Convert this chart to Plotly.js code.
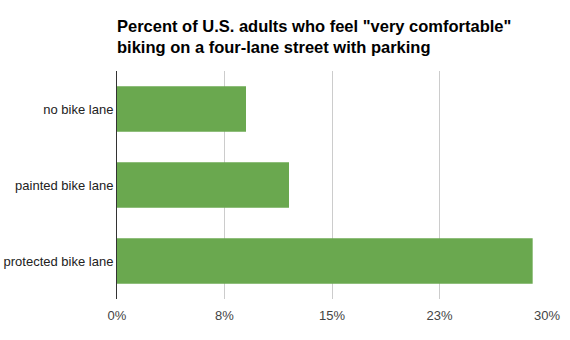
<!DOCTYPE html>
<html>
<head>
<meta charset="utf-8">
<script src="https://cdn.plot.ly/plotly-3.0.1.min.js"></script>
<style>html,body{margin:0;padding:0;background:#fff;}#chart{width:570px;height:340px;}</style>
</head>
<body>
<div id="chart"></div>
<script>
const categories = ["no bike lane", "painted bike lane", "protected bike lane"];
const percentValues = [9, 12, 29];
const tickVals = [0, 7.5, 15, 22.5, 30];
const tickLabels = ["0%", "8%", "15%", "23%", "30%"];
const chartTitle = 'Percent of U.S. adults who feel "very comfortable"<br>biking on a four-lane street with parking';

const data = [{
  type: "bar",
  orientation: "h",
  x: percentValues,
  y: categories,
  marker: { color: "#6aa84f" },
  hoverinfo: "x+y"
}];

const layout = {
  width: 570,
  height: 340,
  margin: { l: 117, r: 23, t: 71, b: 41 },
  paper_bgcolor: "#fff",
  plot_bgcolor: "#fff",
  font: { family: "Arial, 'Liberation Sans', sans-serif", size: 13, color: "#444" },
  title: {
    text: chartTitle,
    font: { family: "Arial, 'Liberation Sans', sans-serif", size: 16.5, color: "#000", weight: "bold" },
    xref: "container", yref: "container",
    x: 117 / 570, xanchor: "left",
    y: 1 - 32 / 340, yanchor: "top"
  },
  bargap: 0.4,
  showlegend: false,
  xaxis: {
    range: [0, 30],
    tickvals: tickVals,
    ticktext: tickLabels,
    showgrid: true,
    gridcolor: "#cccccc",
    gridwidth: 1,
    zeroline: false,
    showline: false,
    ticks: "",
    ticklabelstandoff: 7,
    tickfont: { size: 13, color: "#444" },
    fixedrange: true
  },
  yaxis: {
    autorange: "reversed",
    showgrid: false,
    showline: true,
    linecolor: "#333",
    linewidth: 1,
    ticks: "",
    tickfont: { size: 13, color: "#222" },
    fixedrange: true
  }
};

Plotly.newPlot("chart", data, layout, { displayModeBar: false, staticPlot: true });
</script>
</body>
</html>
